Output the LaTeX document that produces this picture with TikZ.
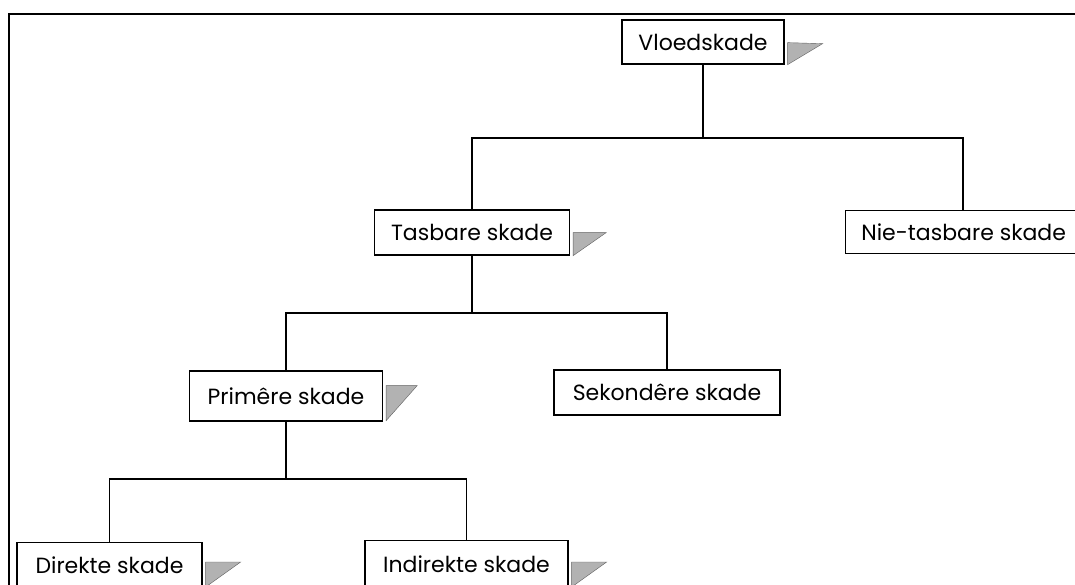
\documentclass[tikz,border=0pt]{standalone}
\usepackage{fontspec}
\setmainfont{Poppins}
\begin{document}
\begin{tikzpicture}[x=1pt,y=-1pt,
  box/.style={draw,line width=1.3pt,fill=white,inner sep=0pt,
    font=\fontsize{22}{24}\selectfont},
  flag/.style={fill=gray!60,draw=gray!75!black,line width=0.4pt},
  link/.style={line width=1.4pt}]
\useasboundingbox (0,0) rectangle (1075,585);
\clip (0,0) rectangle (1075,585);
\fill[white] (0,0) rectangle (1075,585);
% outer frame (top and left edges)
\draw[line width=1.5pt] (1076,14) -- (9,14) -- (9,586);
% boxes
\node[box,minimum width=162pt,minimum height=44pt] (V) at (703,42) {Vloedskade};
\node[box,minimum width=195pt,minimum height=45pt] (T) at (472,232.5) {Tasbare skade};
\node[box,minimum width=236pt,minimum height=43pt,anchor=north west] (N) at (845,210) {Nie-tasbare skade};
\node[box,minimum width=193pt,minimum height=50pt] (P) at (286,396) {Primêre skade};
\node[box,minimum width=226pt,minimum height=45pt] (S) at (667,392.5) {Sekondêre skade};
\node[box,minimum width=185pt,minimum height=46pt,anchor=north] (D) at (109.5,542) {Direkte skade};
\node[box,minimum width=203pt,minimum height=48pt,anchor=north] (I) at (466.5,540) {Indirekte skade};
% junction points
\coordinate (j1) at (703,138);
\coordinate (j2) at (472,313);
\coordinate (j3) at (286,479);
% connectors
\draw[link] (V.south) -- (j1);
\draw[link] (T.north) |- (j1) -| (N.north -| 963,0);
\draw[link] (T.south) -- (j2);
\draw[link] (P.north) |- (j2) -| (S.north);
\draw[link] (P.south) -- (j3);
\draw[link] (D.north) |- (j3) -| (I.north);
% note flags beside boxes
\filldraw[flag] ([xshift=3pt,yshift=22pt]V.south east) -- ++(35,1) -- ([xshift=3pt]V.south east) -- cycle;
\filldraw[flag] ([xshift=3pt,yshift=23pt]T.south east) -- ++(33,0) -- ([xshift=3pt]T.south east) -- cycle;
\filldraw[flag] ([xshift=3pt,yshift=36pt]P.south east) -- ++(31,0) -- ([xshift=3pt,yshift=1pt]P.south east) -- cycle;
\filldraw[flag] ([xshift=3pt,yshift=-20pt]D.north east) -- ++(35,0) -- ([xshift=3pt,yshift=-45pt]D.north east) -- cycle;
\filldraw[flag] ([xshift=3pt,yshift=-22pt]I.north east) -- ++(35,0) -- ([xshift=3pt,yshift=-47pt]I.north east) -- cycle;
\end{tikzpicture}
\end{document}
